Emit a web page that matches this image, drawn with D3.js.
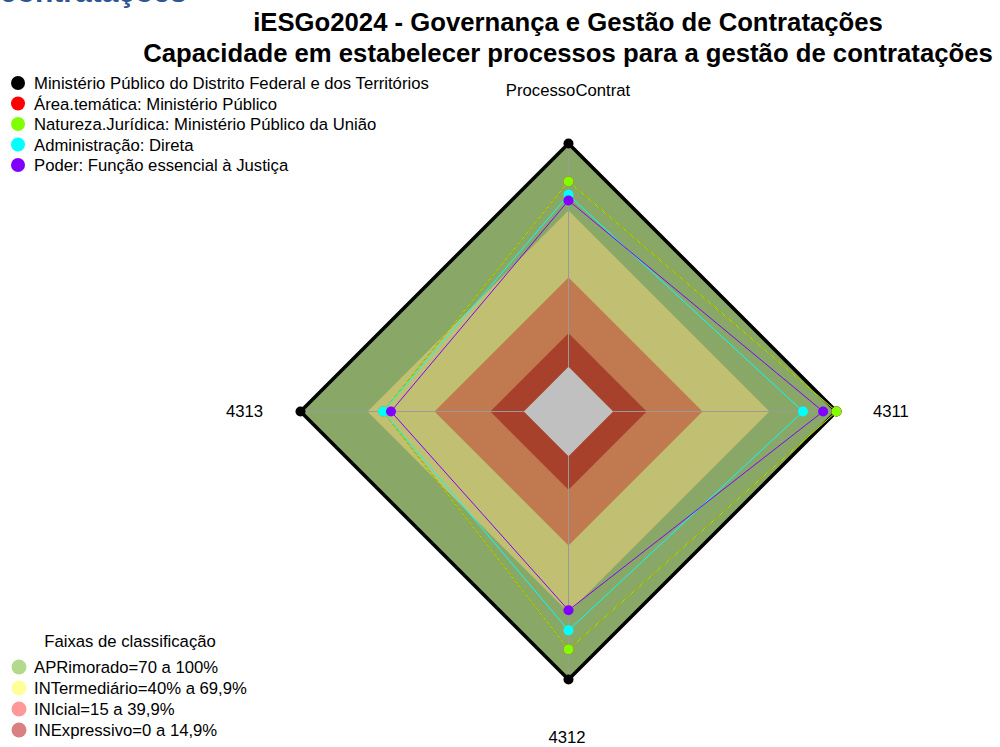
<!DOCTYPE html>
<html>
<head>
<meta charset="utf-8">
<script src="https://cdn.jsdelivr.net/npm/d3@7"></script>
<style>
  html, body { margin: 0; padding: 0; background: #fff; }
  svg { display: block; font-family: "Liberation Sans", Arial, sans-serif; }
</style>
</head>
<body>
<svg id="chart" width="1000" height="747"></svg>
<script>
// Axes of the radar, in drawing order (clockwise from the top)
const axes = ["ProcessoContrat", "4311", "4312", "4313"];

// Series names and colours
const seriesNames = [
  "Ministério Público do Distrito Federal e dos Territórios",
  "Área.temática: Ministério Público",
  "Natureza.Jurídica: Ministério Público da União",
  "Administração: Direta",
  "Poder: Função essencial à Justiça"
];
const seriesColors = ["#000000", "#ff0000", "#80ff00", "#00ffff", "#8000ff"];

// Scores (%) per axis for each series
const mpdft       = [100, 100, 100, 100];
const areaTematica = [83, 100, 86.5, 63];
const natJuridica = [83, 100, 86.5, 63];
const administracao = [77, 85, 78, 63];
const poder       = [74.5, 94, 69, 59.5];
const seriesValues = [mpdft, areaTematica, natJuridica, administracao, poder];

// Classification bands (upper limit in %) and fills
const bandNames = ["APRimorado=70 a 100%", "INTermediário=40% a 69,9%", "INIcial=15 a 39,9%", "INExpressivo=0 a 14,9%"];
const bandTops = [100, 70, 40, 15];
const bandFills = ["#89a766", "#c1bf71", "#c17a50", "#a8412b"];
const bandLegendFills = ["#b3d98c", "#ffff99", "#ff9999", "#d98080"];
const coreValue = 0;

const svg = d3.select("#chart");
const cx = 568.5, cy = 411.5, R = 268;
const FS = 16.7;

// Radial scale: the axis origin sits one sixth of the radius out from the centre
const r = d3.scaleLinear().domain([-20, 100]).range([0, R]);
const angle = d3.scalePoint().domain(axes).range([0, 2 * Math.PI * (axes.length - 1) / axes.length]);

function pt(axis, v) {
  const a = angle(axis);
  return [cx + r(v) * Math.sin(a), cy - r(v) * Math.cos(a)];
}
const ring = v => axes.map(a => pt(a, v));
const poly = d3.line().curve(d3.curveLinearClosed);

// Bands
const g = svg.append("g");
bandTops.forEach((t, i) => {
  g.append("path").attr("d", poly(ring(t))).attr("fill", bandFills[i]);
});
g.append("path").attr("d", poly(ring(coreValue))).attr("fill", "#c0c0c0");

// Axis spokes
axes.forEach(a => {
  const [x1, y1] = pt(a, coreValue);
  const [x2, y2] = pt(a, 100);
  g.append("line").attr("x1", x1).attr("y1", y1).attr("x2", x2).attr("y2", y2)
    .attr("stroke", "#9a9a9a").attr("stroke-width", 1);
});

// Series polygons and points
seriesValues.forEach((vals, i) => {
  const pts = axes.map((a, j) => pt(a, vals[j]));
  g.append("path").attr("d", poly(pts)).attr("fill", "none")
    .attr("stroke", seriesColors[i]).attr("stroke-width", i === 0 ? 3.5 : 1)
    .attr("stroke-linejoin", "miter");
});
seriesValues.forEach((vals, i) => {
  axes.forEach((a, j) => {
    const [x, y] = pt(a, vals[j]);
    g.append("circle").attr("cx", x).attr("cy", y).attr("r", 5).attr("fill", seriesColors[i]);
  });
});

// Axis labels
const labelPos = [[568, 96, "middle"], [873, 417, "start"], [567, 743, "middle"], [263, 417, "end"]];
axes.forEach((a, i) => {
  svg.append("text").attr("x", labelPos[i][0]).attr("y", labelPos[i][1])
    .attr("text-anchor", labelPos[i][2]).attr("font-size", FS).attr("fill", "#000").text(a);
});

// Titles
svg.append("text").attr("x", 0).attr("y", 2).attr("font-size", 30).attr("font-weight", "bold")
  .attr("fill", "#2f5597").text("contratações");
svg.append("text").attr("x", 568).attr("y", 31).attr("text-anchor", "middle")
  .attr("font-size", 25.7).attr("font-weight", "bold").text("iESGo2024 - Governança e Gestão de Contratações");
svg.append("text").attr("x", 568).attr("y", 62).attr("text-anchor", "middle")
  .attr("font-size", 25.7).attr("font-weight", "bold").text("Capacidade em estabelecer processos para a gestão de contratações");

// Series legend
const leg = svg.append("g");
seriesNames.forEach((n, i) => {
  const y = 83 + i * 20.5;
  leg.append("circle").attr("cx", 18).attr("cy", y).attr("r", 7).attr("fill", seriesColors[i]);
  leg.append("text").attr("x", 34).attr("y", y + 6).attr("font-size", FS).text(n);
});

// Band legend
const bl = svg.append("g");
bl.append("text").attr("x", 130).attr("y", 647).attr("text-anchor", "middle").attr("font-size", FS)
  .text("Faixas de classificação");
bandNames.forEach((n, i) => {
  const y = 667 + i * 21;
  bl.append("circle").attr("cx", 19).attr("cy", y).attr("r", 7.5).attr("fill", bandLegendFills[i]);
  bl.append("text").attr("x", 34).attr("y", y + 6).attr("font-size", FS).text(n);
});
</script>
</body>
</html>
